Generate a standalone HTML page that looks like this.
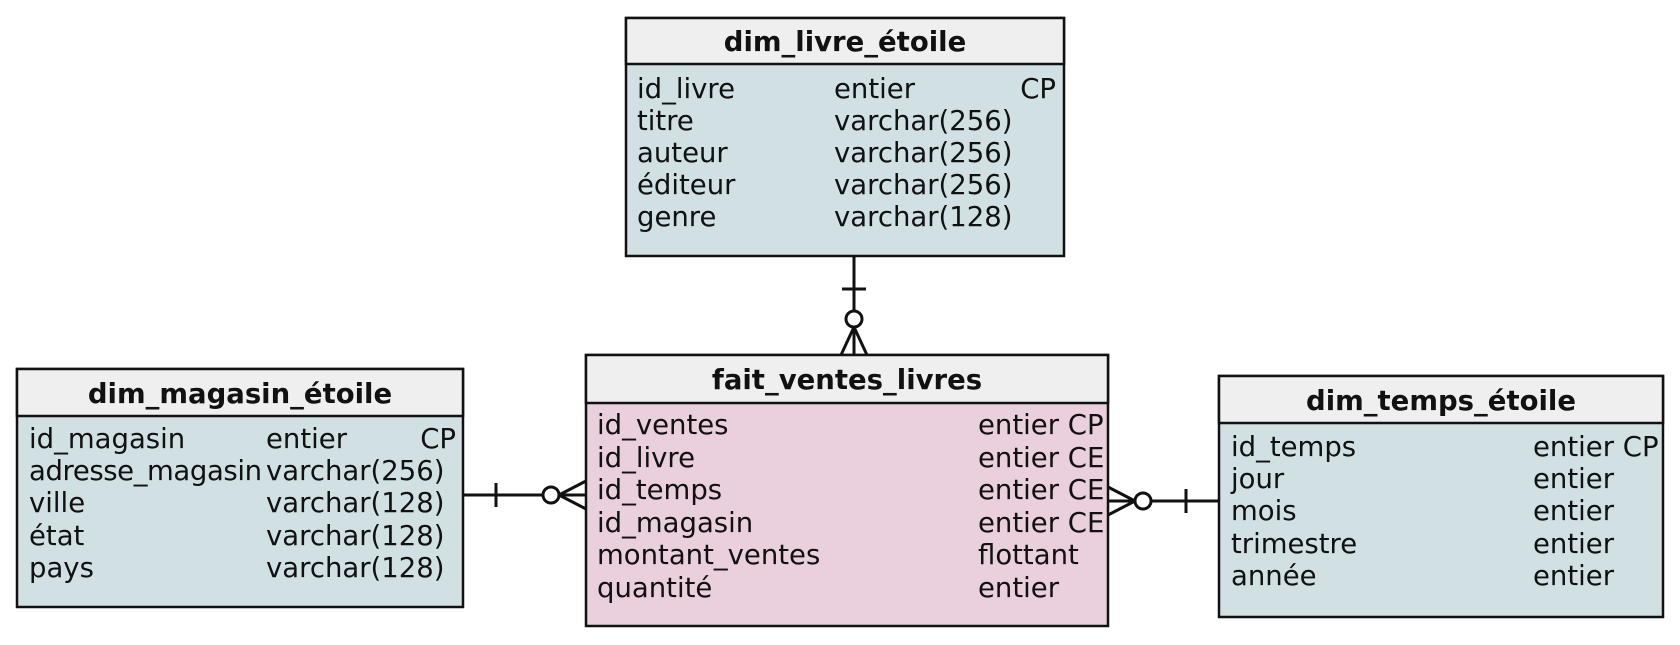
<!DOCTYPE html>
<html><head><style>
body{margin:0;width:1680px;height:640px;background:#fff;overflow:hidden}
svg text{font-family:"DejaVu Sans","Liberation Sans",sans-serif;font-size:27.5px;fill:#111}
.h{font-weight:bold;font-size:27.5px}
</style></head><body>
<svg width="1680" height="640" xmlns="http://www.w3.org/2000/svg">
<g stroke="#111" stroke-width="3" fill="none">
<line x1="854" y1="256" x2="854" y2="311"/>
<line x1="842" y1="289" x2="866" y2="289"/>
<circle cx="854" cy="319" r="8" fill="#fff"/>
<line x1="854" y1="327" x2="841" y2="355"/><line x1="854" y1="327" x2="854" y2="355"/><line x1="854" y1="327" x2="867" y2="355"/>
<line x1="463" y1="495" x2="543" y2="495"/>
<line x1="496" y1="483" x2="496" y2="507"/>
<circle cx="551" cy="495" r="8" fill="#fff"/>
<line x1="559" y1="495" x2="586" y2="481"/><line x1="559" y1="495" x2="586" y2="495"/><line x1="559" y1="495" x2="586" y2="509"/>
<line x1="1151" y1="501" x2="1219" y2="501"/>
<line x1="1186" y1="489" x2="1186" y2="513"/>
<circle cx="1143" cy="501" r="8" fill="#fff"/>
<line x1="1135" y1="501" x2="1108" y2="487"/><line x1="1135" y1="501" x2="1108" y2="501"/><line x1="1135" y1="501" x2="1108" y2="515"/>
</g>
<rect x="626" y="18" width="438" height="238" fill="#d1e0e3" stroke="#111" stroke-width="2.5"/>
<rect x="626" y="18" width="438" height="46" fill="#efefef" stroke="#111" stroke-width="2.5"/>
<text class="h" x="845" y="51" text-anchor="middle">dim_livre_étoile</text>
<text x="637" y="98">id_livre</text><text x="834" y="98">entier</text><text x="1056" y="98" text-anchor="end">CP</text>
<text x="637" y="130">titre</text><text x="834" y="130">varchar(256)</text>
<text x="637" y="162">auteur</text><text x="834" y="162">varchar(256)</text>
<text x="637" y="194">éditeur</text><text x="834" y="194">varchar(256)</text>
<text x="637" y="226">genre</text><text x="834" y="226">varchar(128)</text>
<rect x="586" y="355" width="522" height="271" fill="#e9d0dc" stroke="#111" stroke-width="2.5"/>
<rect x="586" y="355" width="522" height="48" fill="#efefef" stroke="#111" stroke-width="2.5"/>
<text class="h" x="847" y="389" text-anchor="middle">fait_ventes_livres</text>
<text x="597" y="434">id_ventes</text><text x="978" y="434">entier CP</text>
<text x="597" y="467">id_livre</text><text x="978" y="467">entier CE</text>
<text x="597" y="499">id_temps</text><text x="978" y="499">entier CE</text>
<text x="597" y="532">id_magasin</text><text x="978" y="532">entier CE</text>
<text x="597" y="564">montant_ventes</text><text x="978" y="564">flottant</text>
<text x="597" y="597">quantité</text><text x="978" y="597">entier</text>
<rect x="17" y="369" width="446" height="238" fill="#d1e0e3" stroke="#111" stroke-width="2.5"/>
<rect x="17" y="369" width="446" height="47" fill="#efefef" stroke="#111" stroke-width="2.5"/>
<text class="h" x="240" y="403" text-anchor="middle">dim_magasin_étoile</text>
<text x="29" y="448">id_magasin</text><text x="266" y="448">entier</text><text x="456" y="448" text-anchor="end">CP</text>
<text x="29" y="480" textLength="233">adresse_magasin</text><text x="266" y="480">varchar(256)</text>
<text x="29" y="512">ville</text><text x="266" y="512">varchar(128)</text>
<text x="29" y="545">état</text><text x="266" y="545">varchar(128)</text>
<text x="29" y="577">pays</text><text x="266" y="577">varchar(128)</text>
<rect x="1219" y="376" width="444" height="241" fill="#d1e0e3" stroke="#111" stroke-width="2.5"/>
<rect x="1219" y="376" width="444" height="47" fill="#efefef" stroke="#111" stroke-width="2.5"/>
<text class="h" x="1441" y="410" text-anchor="middle">dim_temps_étoile</text>
<text x="1231" y="456">id_temps</text><text x="1533" y="456">entier CP</text>
<text x="1231" y="488">jour</text><text x="1533" y="488">entier</text>
<text x="1231" y="520">mois</text><text x="1533" y="520">entier</text>
<text x="1231" y="553">trimestre</text><text x="1533" y="553">entier</text>
<text x="1231" y="585">année</text><text x="1533" y="585">entier</text>
</svg>
</body></html>
